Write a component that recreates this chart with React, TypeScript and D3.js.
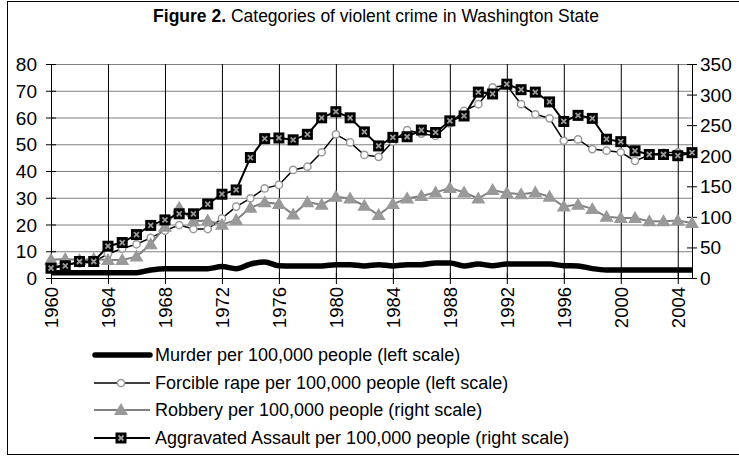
import * as d3 from 'd3';
import React from 'react';

// years on the x axis
const years = [1960, 1961, 1962, 1963, 1964, 1965, 1966, 1967, 1968, 1969,
  1970, 1971, 1972, 1973, 1974, 1975, 1976, 1977, 1978, 1979,
  1980, 1981, 1982, 1983, 1984, 1985, 1986, 1987, 1988, 1989,
  1990, 1991, 1992, 1993, 1994, 1995, 1996, 1997, 1998, 1999,
  2000, 2001, 2002, 2003, 2004, 2005];
const xTicks = [1960, 1964, 1968, 1972, 1976, 1980, 1984, 1988, 1992, 1996, 2000, 2004];
const leftTicks = [0, 10, 20, 30, 40, 50, 60, 70, 80];
const rightTicks = [0, 50, 100, 150, 200, 250, 300, 350];

// left scale
const murder = [2, 2, 2, 2, 2, 2, 2, 3, 3.5, 3.5,
  3.5, 3.5, 4.3, 3.5, 5.2, 6, 4.6, 4.5, 4.5, 4.5,
  5, 5, 4.5, 5, 4.5, 5, 5, 5.6, 5.6, 4.5,
  5.2, 4.6, 5.2, 5.2, 5.2, 5.2, 4.6, 4.5, 3.5, 3,
  3, 3, 3, 3, 3, 3];
const rape = [4, 5, 5.5, 6, 9, 11, 12.6, 15, 17.7, 19.8,
  18.3, 18.3, 22.3, 26.7, 29.8, 33.5, 34.8, 40.4, 41.6, 47,
  53.7, 50.7, 46, 45.3, 51, 55.3, 54, 53.1, 57.8, 62.5,
  65, 71.3, 72, 65, 61.2, 59.7, 51.3, 51.8, 48.2, 47.6,
  47, 43.8, 46, 46.8, 47, 46.5];
// right scale
const robbery = [30, 31, 29.5, 31, 29.5, 29.5, 35, 55, 84, 115,
  93, 94, 87, 95, 115, 124, 121, 104, 124, 120,
  133, 130, 118, 103, 121, 130, 134, 140, 147, 140,
  130, 144, 139, 137, 140, 133, 117, 120, 113, 100,
  98, 98, 93, 93, 94, 90];
const assault = [16, 20, 27, 27, 52, 58, 71, 86, 95, 105,
  105, 121, 137, 144, 197, 228, 229, 226, 235, 262,
  272, 262, 239, 216, 230, 231, 242, 238, 257, 265,
  304, 301, 317, 308, 304, 288, 256, 266, 261, 227,
  223, 208, 202, 202, 200, 205];

const legendItems = [
  'Murder per 100,000 people (left scale)',
  'Forcible rape per 100,000 people (left scale)',
  'Robbery per 100,000 people (right scale)',
  'Aggravated Assault per 100,000 people (right scale)',
];

const font = '"Liberation Sans", Arial, sans-serif';

const x = d3.scaleLinear().domain([1960, 2005]).range([51, 692]);
const yL = d3.scaleLinear().domain([0, 80]).range([278, 64]);
const yR = d3.scaleLinear().domain([0, 350]).range([278, 64]);

const Square = ({ cx, cy }: { cx: number; cy: number }) => (
  <g transform={`translate(${cx},${cy})`}>
    <rect x={-5.5} y={-5.5} width={11} height={11} fill="#000" />
    <path d="M-2.5,-2.5L2.5,2.5M2.5,-2.5L-2.5,2.5" stroke="#999" strokeWidth={1.8} />
  </g>
);
const Tri = ({ cx, cy }: { cx: number; cy: number }) => (
  <path d={`M${cx},${cy - 7}L${cx + 7},${cy + 5}L${cx - 7},${cy + 5}Z`} fill="#999" />
);
const Circ = ({ cx, cy }: { cx: number; cy: number }) => (
  <circle cx={cx} cy={cy} r={3.6} fill="#fff" stroke="#999" strokeWidth={1.5} />
);

export default function App() {
  const lineL = d3.line<number>().x((d, i) => x(years[i])).y(d => yL(d));
  const lineR = d3.line<number>().x((d, i) => x(years[i])).y(d => yR(d));
  const smoothL = d3.line<number>().x((d, i) => x(years[i])).y(d => yL(d)).curve(d3.curveMonotoneX);

  const legendY = [355, 383, 410, 438];

  return (
    <svg width={739} height={457} style={{ position: 'absolute', left: 0, top: 0, background: '#fff' }}
      fontFamily={font}>
      <rect x={7.5} y={1.5} width={745} height={453} fill="#fff" stroke="#000" strokeWidth={1} />
      <text x={376} y={22} textAnchor="middle" fontSize={17.5}>
        <tspan fontWeight="bold">Figure 2.</tspan> Categories of violent crime in Washington State
      </text>

      {/* gridlines */}
      {leftTicks.slice(1).map(t => (
        <line key={'h' + t} x1={51} x2={692} y1={yL(t) + 0.5} y2={yL(t) + 0.5} stroke="#808080" />
      ))}
      {xTicks.slice(1).map(t => (
        <line key={'v' + t} x1={x(t) + 0.5} x2={x(t) + 0.5} y1={64} y2={278} stroke="#000" />
      ))}

      {/* axes */}
      <line x1={51.5} x2={51.5} y1={64} y2={279} stroke="#000" />
      <line x1={692.5} x2={692.5} y1={64} y2={279} stroke="#000" />
      <line x1={51} x2={693} y1={278.5} y2={278.5} stroke="#000" />
      {leftTicks.map(t => (
        <g key={'l' + t}>
          <line x1={46} x2={56} y1={yL(t) + 0.5} y2={yL(t) + 0.5} stroke="#000" />
          <text x={37} y={yL(t) + 7} textAnchor="end" fontSize={19}>{t}</text>
        </g>
      ))}
      {rightTicks.map(t => (
        <g key={'r' + t}>
          <line x1={687} x2={697} y1={yR(t) + 0.5} y2={yR(t) + 0.5} stroke="#000" />
          <text x={700} y={yR(t) + 7} textAnchor="start" fontSize={19}>{t}</text>
        </g>
      ))}
      {xTicks.map(t => (
        <g key={'x' + t}>
          <line x1={x(t) + 0.5} x2={x(t) + 0.5} y1={273} y2={284} stroke="#000" />
          <text transform={`translate(${x(t) + 7},${287}) rotate(-90)`} textAnchor="end" fontSize={18.5}>{t}</text>
        </g>
      ))}

      {/* series */}
      <path d={smoothL(murder) || ''} fill="none" stroke="#000" strokeWidth={5.5} strokeLinejoin="round" />
      <path d={lineL(rape) || ''} fill="none" stroke="#000" strokeWidth={1.5} />
      {rape.map((d, i) => <Circ key={'c' + i} cx={x(years[i])} cy={yL(d)} />)}
      <path d={lineR(robbery) || ''} fill="none" stroke="#808080" strokeWidth={2} />
      {robbery.map((d, i) => <Tri key={'t' + i} cx={x(years[i])} cy={yR(d)} />)}
      <path d={lineR(assault) || ''} fill="none" stroke="#000" strokeWidth={2} />
      {assault.map((d, i) => <Square key={'s' + i} cx={x(years[i])} cy={yR(d)} />)}

      {/* legend */}
      {legendItems.map((name, i) => {
        const ly = legendY[i];
        return (
          <g key={name}>
            {i === 0 && <line x1={95} x2={150} y1={ly} y2={ly} stroke="#000" strokeWidth={5.5} strokeLinecap="round" />}
            {i === 1 && <><line x1={94} x2={150} y1={ly} y2={ly} stroke="#000" strokeWidth={1.5} /><Circ cx={121} cy={ly} /></>}
            {i === 2 && <><line x1={94} x2={150} y1={ly} y2={ly} stroke="#808080" strokeWidth={2} /><Tri cx={121} cy={ly} /></>}
            {i === 3 && <><line x1={94} x2={150} y1={ly} y2={ly} stroke="#000" strokeWidth={2} /><Square cx={121} cy={ly} /></>}
            <text x={155} y={ly + 6} fontSize={18}>{name}</text>
          </g>
        );
      })}
    </svg>
  );
}
